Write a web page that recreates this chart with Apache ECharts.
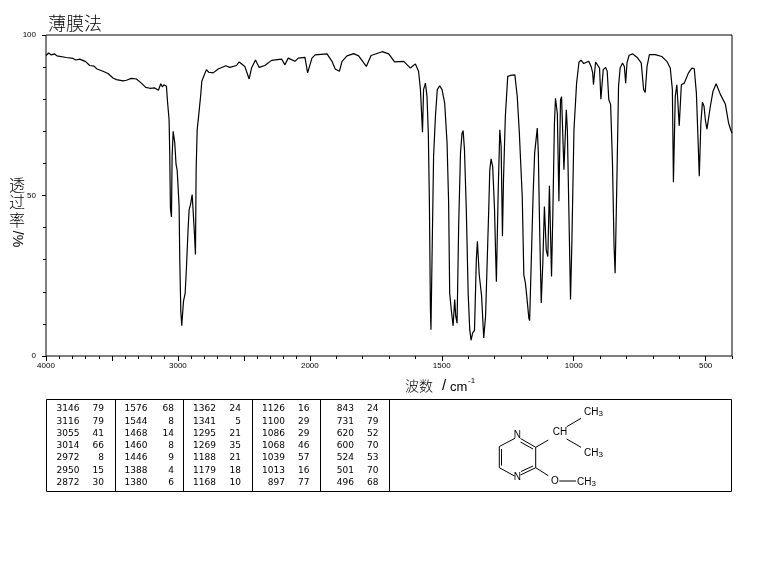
<!DOCTYPE html>
<html><head><meta charset="utf-8">
<style>html,body{margin:0;padding:0;background:#fff}#c{width:765px;height:567px}</style>
<script src="https://cdn.jsdelivr.net/npm/echarts@6/dist/echarts.min.js"></script>
</head><body><div id="c"></div>
<script>
const wavenumbers=[4000,3980,3960,3934,3917,3846,3795,3775,3745,3699,3669,3636,3613,3568,3530,3492,3466,3416,3391,3353,3315,3277,3244,3213,3176,3163,3148,3130,3117,3107,3087,3079,3067,3062,3057,3049,3044,3036,3029,3024,3014,3006,2999,2991,2986,2978,2971,2963,2958,2950,2945,2935,2923,2915,2905,2892,2880,2875,2867,2862,2854,2842,2827,2819,2809,2794,2784,2766,2733,2695,2637,2607,2556,2536,2493,2460,2442,2412,2384,2341,2290,2214,2189,2164,2113,2088,2037,2017,1992,1980,1935,1916,1904,1888,1878,1859,1834,1815,1786,1768,1726,1701,1679,1644,1619,1600,1588,1581,1575,1573,1569,1562,1556,1551,1547,1543,1541,1537,1531,1524,1517,1508,1499,1489,1480,1474,1470,1464,1457,1451,1447,1442,1436,1429,1423,1419,1414,1407,1400,1394,1389,1383,1376,1369,1365,1358,1349,1341,1334,1328,1322,1318,1313,1307,1300,1296,1293,1286,1280,1275,1270,1266,1259,1250,1240,1223,1214,1206,1195,1189,1183,1179,1170,1167,1161,1154,1148,1138,1134,1129,1123,1117,1111,1104,1098,1092,1084,1079,1073,1069,1062,1056,1050,1046,1037,1028,1024,1012,1007,999,989,980,972,962,943,934,928,925,917,911,902,897,888,879,873,867,860,853,847,843,836,830,824,815,808,803,798,790,776,758,744,735,729,722,713,691,666,647,634,626,622,615,609,605,600,592,581,565,552,543,535,530,524,518,512,506,501,495,482,472,460,444,425,413,403,400];
const transmittance=[93.6,94.4,93.8,94.1,93.5,93.0,92.7,92.2,92.5,91.7,90.5,90.3,89.4,88.7,88.0,86.6,86.1,85.7,85.9,86.5,86.3,85.0,83.7,83.4,83.5,84.0,82.8,84.8,83.8,84.5,84.0,79.3,73.6,63.2,46.1,43.3,62.2,70.0,70.0,66.4,59.6,58,52.9,46.6,30,13.9,9.4,9.2,17,16.5,19.6,27.9,39.4,45.6,47.1,50.3,50.5,38.3,31.6,58,70.5,75.2,81.4,85.6,85.0,88.2,89.2,88.4,88.2,89.4,90.4,89.9,90.5,91.6,90.2,86.3,89.7,92.2,89.9,90.5,92.1,92.5,90.7,92.8,91.8,92.8,93.0,88.2,92.8,93.8,94.1,91.8,89.4,88.7,91.8,93.5,94.2,93.5,90.2,93.6,94.8,94.1,91.6,91.8,89.7,91,88.7,83.2,73.1,69.7,83,85,80.9,69.5,48.7,14.4,8.2,30,62.2,74.7,83,84.2,83,78.8,66.4,47.7,19.6,14.4,9.4,17.6,12.4,10.2,40.4,63.3,69.5,70.2,64.3,45.6,19.6,8.2,4.9,7.2,8,30,35.7,25.3,18.6,5.6,12.4,29,45.6,58,61.4,59,45.6,32.1,23.1,51.8,70.5,65.3,37.3,55,74.7,87.1,87.4,87.6,80.9,69.5,49.7,25.3,22.7,19.6,11.8,11,29,49.7,63.2,71,63.2,39.3,16.5,29,46.6,33,31,53,24.8,44.5,72.6,80.3,75.6,48.2,79.8,80.8,58,76.7,70.5,17.6,35,70.5,85,91.5,92.2,91.1,91.8,90.2,88.2,84.5,91.6,91.9,89.7,80,89.2,89.9,88.7,79.9,78.3,60.1,34.2,25.8,56,84,89.7,91.3,90.2,85,91.3,93.7,94.1,92.9,91.3,83,82.1,90.2,93.9,93.9,93.3,91.8,89.7,83,54.1,80.9,84.5,78.8,71.7,84.5,85,88.2,89.7,89.5,81.9,70.5,56,72.6,79.1,77.8,73.6,70.7,77.8,82.5,84.8,81.5,78.4,72.6,70,69.5];

const majorTickWn=[4000,3500,3000,2500,2000,1500,1000,500];
const labelWn=[4000,3000,2000,1500,1000,500];
const minorTickWn=[3900,3800,3700,3600,3400,3300,3200,3100,2900,2800,2700,2600,2400,2300,2200,2100,1900,1800,1700,1600,1400,1300,1200,1100,900,800,700,600,400];

const peakWn=[[3146,3116,3055,3014,2972,2950,2872],[1576,1544,1468,1460,1446,1388,1380],[1362,1341,1295,1269,1188,1179,1168],[1126,1100,1086,1068,1039,1013,897],[843,731,620,600,524,501,496]];
const peakT=[[79,79,41,66,8,15,30],[68,8,14,8,9,4,6],[24,5,21,35,21,18,10],[16,29,29,46,57,16,77],[24,79,52,70,53,70,68]];

// The instrument chart halves its scale above 2000 cm-1
const toAxis=w=>w>2000?2000+(w-2000)/2:w;
const fromAxis=u=>u>2000?2000+(u-2000)*2:u;

const chart=echarts.init(document.getElementById('c'),null,{renderer:'canvas'});
const tickFont={fontFamily:'Liberation Sans',fontSize:8,color:'#000'};
const black={stroke:'#000',lineWidth:1};
const g=[];
const line=(x1,y1,x2,y2)=>g.push({type:'line',silent:true,shape:{x1,y1,x2,y2},style:black});
const txt=(x,y,text,o={})=>g.push({type:'text',silent:true,x,y,rotation:o.rotation||0,style:{text,fill:'#000',x:0,y:0,align:o.align||'center',verticalAlign:'middle',font:o.font||'10px "Liberation Sans"',rich:o.rich}});

// Side and bottom captions
const cjk='"Noto Sans CJK SC"';
txt(75,23,'薄膜法',{font:'300 18px '+cjk});
[['透',185],['过',202],['率',220]].forEach(([c,y])=>txt(17,y,c,{font:'300 16px '+cjk}));
txt(17,239,'/%',{font:'14px "Liberation Sans"',rotation:-Math.PI/2});
txt(405,386,'波数',{align:'left',font:'300 14px '+cjk});
txt(444,386,'/',{font:'15px "Liberation Sans"'});
txt(450,387,'cm',{align:'left',font:'13px "Liberation Sans"'});
txt(468,381,'-1',{align:'left',font:'8px "Liberation Sans"'});

// Peak table
g.push({type:'rect',silent:true,shape:{x:46.5,y:399.5,width:685,height:92},style:{fill:'none',stroke:'#000',lineWidth:1}});
[115.5,183.5,252.5,320.5,389.5].forEach(x=>line(x,399.5,x,491.5));
const colWnRight=[79.5,147.5,216,285,354];
const colTRight=[104,174,241,309.5,378.5];
const tableFont='9px "DejaVu Sans"';
peakWn.forEach((col,i)=>col.forEach((w,r)=>{
  const y=409+r*12.25;
  txt(colWnRight[i],y,String(w),{align:'right',font:tableFont});
  txt(colTRight[i],y,String(peakT[i][r]),{align:'right',font:tableFont});
}));

// Structure
line(515,438.3,499.3,446.5);line(499.3,446.5,499.3,467.7);line(501.5,449,501.5,465.5);
line(499.3,467.7,514.5,476);line(520.5,475,535.7,467.7);line(521,471.5,533,466);
line(520.5,438.5,535.7,447.3);line(520.5,442,533,449);line(535.7,447.3,535.7,467.7);
line(535.7,447.3,548.3,440);line(566.7,426.7,581,418.3);line(566.7,439,581,447.3);
line(535.7,467.7,548.3,475.7);line(559.3,481,576,481);
const mol='10px "Liberation Sans"';
txt(517.3,435.5,'N',{font:mol});txt(517.3,477.5,'N',{font:mol});
txt(560,432.5,'CH',{font:mol});txt(555,481,'O',{font:mol});
const ch3={align:'left',rich:{a:{font:mol,fill:'#000'},s:{font:'8px "Liberation Sans"',fill:'#000',verticalAlign:'bottom',padding:[3,0,0,0]}}};
txt(584,412.5,'{a|CH}{s|3}',ch3);txt(584,453,'{a|CH}{s|3}',ch3);txt(577,482,'{a|CH}{s|3}',ch3);

const baseX={type:'value',position:'bottom',inverse:true,min:400,max:3000,splitLine:{show:false},axisLine:{show:false}};
chart.setOption({
  animation:false,
  backgroundColor:'#fff',
  grid:{left:46,right:33,top:35,bottom:211,show:true,borderColor:'#000',borderWidth:1,backgroundColor:'transparent'},
  xAxis:[
    Object.assign({},baseX,{
      axisTick:{show:true,length:5,lineStyle:{color:'#000',width:1},customValues:majorTickWn.map(toAxis)},
      axisLabel:{show:true,margin:6,customValues:labelWn.map(toAxis),formatter:v=>String(fromAxis(v)),...tickFont}
    }),
    Object.assign({},baseX,{
      axisTick:{show:true,length:3,lineStyle:{color:'#000',width:1},customValues:minorTickWn.map(toAxis)},
      axisLabel:{show:false}
    })
  ],
  yAxis:{type:'value',min:0,max:100,interval:50,splitLine:{show:false},axisLine:{show:false},
    axisTick:{show:true,length:4,lineStyle:{color:'#000'}},
    minorTick:{show:true,splitNumber:5,length:3,lineStyle:{color:'#000'}},
    axisLabel:{margin:10,...tickFont}},
  series:[{type:'line',xAxisIndex:0,symbol:'none',silent:true,
    lineStyle:{color:'#000',width:1.2},
    data:wavenumbers.map((w,i)=>[toAxis(w),transmittance[i]])}],
  graphic:{elements:g}
});
</script></body></html>
